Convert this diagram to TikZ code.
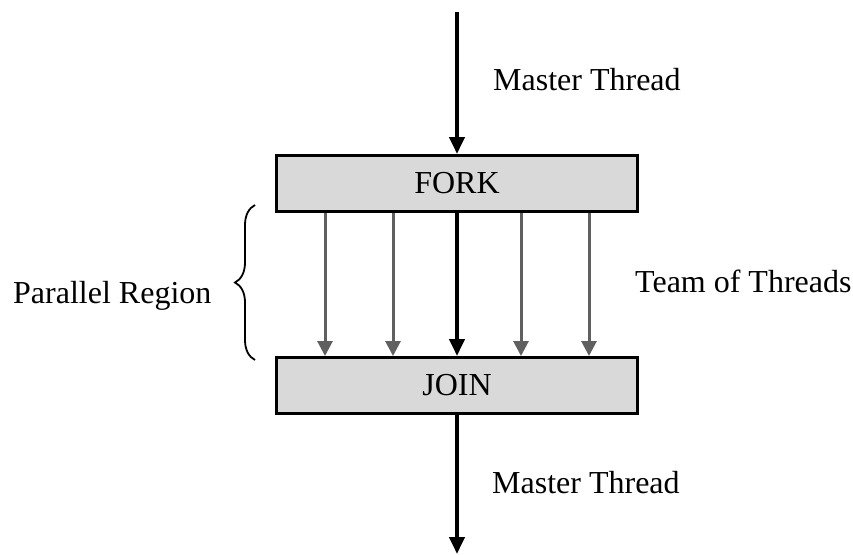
\documentclass[tikz,border=0pt]{standalone}
\usepackage{fontspec}
\setmainfont{Liberation Serif}
\usetikzlibrary{arrows.meta,decorations.pathreplacing}

\definecolor{boxgray}{HTML}{D9D9D9}
\definecolor{threadgray}{HTML}{606060}

\tikzset{
  phase/.style={draw, line width=3pt, fill=boxgray, minimum width=361pt, minimum height=56pt, inner sep=0pt},
  master/.style={line width=4pt, -{Triangle[length=17pt,width=15pt]}},
  thread/.style={threadgray, line width=3pt, -{Triangle[length=15pt,width=15pt]}},
  label/.style={anchor=base west, inner sep=0pt}
}

\begin{document}
\begin{tikzpicture}[x=1pt, y=-1pt, font=\fontsize{32}{38}\selectfont]
\useasboundingbox (0,0) rectangle (853,554);

\node[phase] (fork) at (457,183.5) {FORK};
\node[phase] (join) at (457,385.5) {JOIN};
\coordinate (start) at (457,12);
\coordinate (finish) at (457,554);

\draw[master] (start) -- (fork.north);
\draw[master] (fork.south) -- (join.north);
\draw[master] (join.south) -- (finish);
\foreach \dx in {-132,-64,64,132}
  \draw[thread] ([xshift=\dx pt]fork.south) -- ([xshift=\dx pt]join.north);

\node[label] (mtop) at (493,90) {Master Thread};
\node[label] (mbottom) at (492,493) {Master Thread};
\node[label] (team) at (635,292) {Team of Threads};
\node[label] (region) at (13,303) {Parallel Region};

% brace round the parallel region
\coordinate (btop) at (255,205);
\coordinate (bbottom) at (255,360);
\draw[line width=1.8pt, decorate, decoration={brace, amplitude=20pt}] (bbottom) -- (btop);
\end{tikzpicture}
\end{document}
